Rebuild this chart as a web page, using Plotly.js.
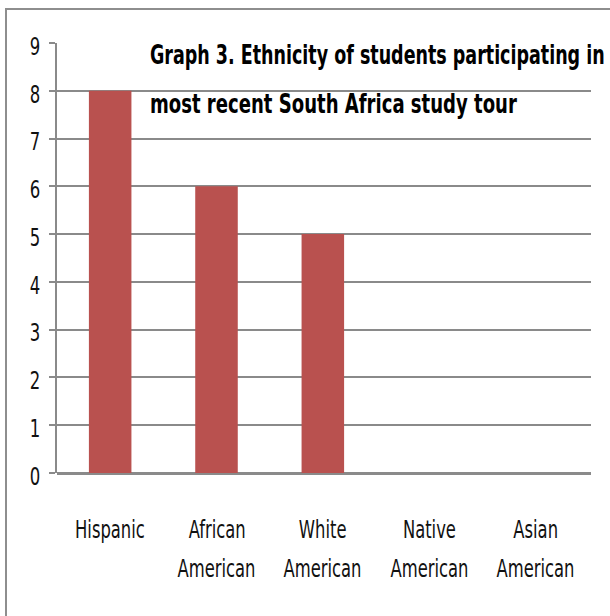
<!DOCTYPE html>
<html>
<head>
<meta charset="utf-8">
<script src="https://cdn.plot.ly/plotly-3.0.1.min.js"></script>
<style>
  html, body { margin: 0; padding: 0; background: #fff; }
  #wrap { position: relative; width: 610px; height: 616px; overflow: hidden; }
  #chart { position: absolute; left: 0; top: 0; width: 610px; height: 616px; }
  #frame { position: absolute; left: 5px; top: 8px; width: 800px; height: 800px;
           border-left: 2px solid #8e8e8e; border-top: 2px solid #8e8e8e;
           pointer-events: none; z-index: 5; }
</style>
</head>
<body>
<div id="wrap">
  <div id="chart"></div>
  <div id="frame"></div>
</div>
<script>
// ---- data ----
const categories = ["Hispanic", "African American", "White American", "Native American", "Asian American"];
const labelLine1 = ["Hispanic", "African", "White", "Native", "Asian"];
const labelLine2 = ["", "American", "American", "American", "American"];
const students = [8, 6, 5, 0, 0];
const yTicks = [0, 1, 2, 3, 4, 5, 6, 7, 8, 9];
const titleLine1 = "Graph 3. Ethnicity of students participating in";
const titleLine2 = "most recent South Africa study tour";

// ---- style ----
const FONT = '"DejaVu Sans Condensed", "Liberation Sans Narrow", "DejaVu Sans", sans-serif';
const GRID = '#8a8a8a';
const M = { l: 57, r: 19, t: 43, b: 143 };
const plotH = 616 - M.t - M.b;
const pxToPaperY = px => (616 - M.b - px) / plotH;

const annotations = [];
categories.forEach((c, i) => {
  annotations.push({
    x: c, xref: 'x', y: pxToPaperY(529), yref: 'paper',
    text: labelLine1[i], showarrow: false, xanchor: 'center', yanchor: 'middle',
    font: { family: FONT, size: 25, color: '#111' }
  });
  if (labelLine2[i]) {
    annotations.push({
      x: c, xref: 'x', y: pxToPaperY(568), yref: 'paper',
      text: labelLine2[i], showarrow: false, xanchor: 'center', yanchor: 'middle',
      font: { family: FONT, size: 25, color: '#111' }
    });
  }
});
annotations.push({
  x: (148 - M.l) / (610 - M.l - M.r), xref: 'paper',
  y: pxToPaperY(104), yref: 'paper',
  text: titleLine2, showarrow: false, align: 'left',
  xanchor: 'left', yanchor: 'middle',
  font: { family: FONT, size: 27, color: '#000', weight: 'bold' }
});

const trace = {
  type: 'bar',
  x: categories,
  y: students,
  marker: { color: '#B9514F', line: { width: 0 } },
  hoverinfo: 'x+y'
};

const layout = {
  width: 610, height: 616,
  margin: M,
  paper_bgcolor: '#fff',
  plot_bgcolor: '#fff',
  bargap: 0.6,
  showlegend: false,
  title: {
    text: titleLine1,
    xref: 'container', x: 150 / 610, xanchor: 'left',
    yref: 'container', y: 1 - 55 / 616, yanchor: 'middle',
    font: { family: FONT, size: 27, color: '#000', weight: 'bold' }
  },
  xaxis: {
    type: 'category',
    showticklabels: false,
    ticks: '',
    showgrid: false,
    showline: false,
    zeroline: false,
    fixedrange: true
  },
  yaxis: {
    range: [0, 9],
    tickvals: yTicks,
    ticktext: yTicks.map(String),
    ticks: 'outside',
    ticklen: 6,
    tickwidth: 2,
    tickcolor: GRID,
    ticklabelstandoff: 5,
    ticklabelshift: 3,
    tickfont: { family: FONT, size: 25, color: '#111' },
    showgrid: true,
    gridcolor: GRID,
    gridwidth: 2,
    showline: true,
    linecolor: GRID,
    linewidth: 2,
    zeroline: true,
    zerolinecolor: GRID,
    zerolinewidth: 3,
    fixedrange: true
  },
  annotations: annotations
};

// condense glyphs horizontally about each text's anchor (reference uses a narrow face)
function squeeze(nodes, sx) {
  nodes.forEach(el => {
    const ax = parseFloat(el.getAttribute('x')) || 0;
    const prev = el.getAttribute('transform') || '';
    el.setAttribute('transform',
      'translate(' + ax + ',0) scale(' + sx.toFixed(4) + ',1) translate(' + (-ax) + ',0) ' + prev);
  });
}

Plotly.newPlot('chart', [trace], layout, { displayModeBar: false, staticPlot: true }).then(gd => {
  const annTexts = Array.from(gd.querySelectorAll('.annotation-text'));
  const catTexts = annTexts.filter(t => t.textContent !== titleLine2);
  const t2 = annTexts.find(t => t.textContent === titleLine2);
  const t1 = gd.querySelector('.gtitle');
  const amer = catTexts.find(t => t.textContent === 'American');
  const catSx = amer ? 78 / amer.getComputedTextLength() : 0.8;
  squeeze(catTexts, catSx);
  if (t2) squeeze([t2], 367 / t2.getComputedTextLength());
  if (t1) squeeze([t1], 455 / t1.getComputedTextLength());
  const yt = Array.from(gd.querySelectorAll('.ytick text'));
  const nine = yt.find(t => t.textContent === '9');
  squeeze(yt, nine ? 10.5 / nine.getComputedTextLength() : 0.75);
});
</script>
</body>
</html>
